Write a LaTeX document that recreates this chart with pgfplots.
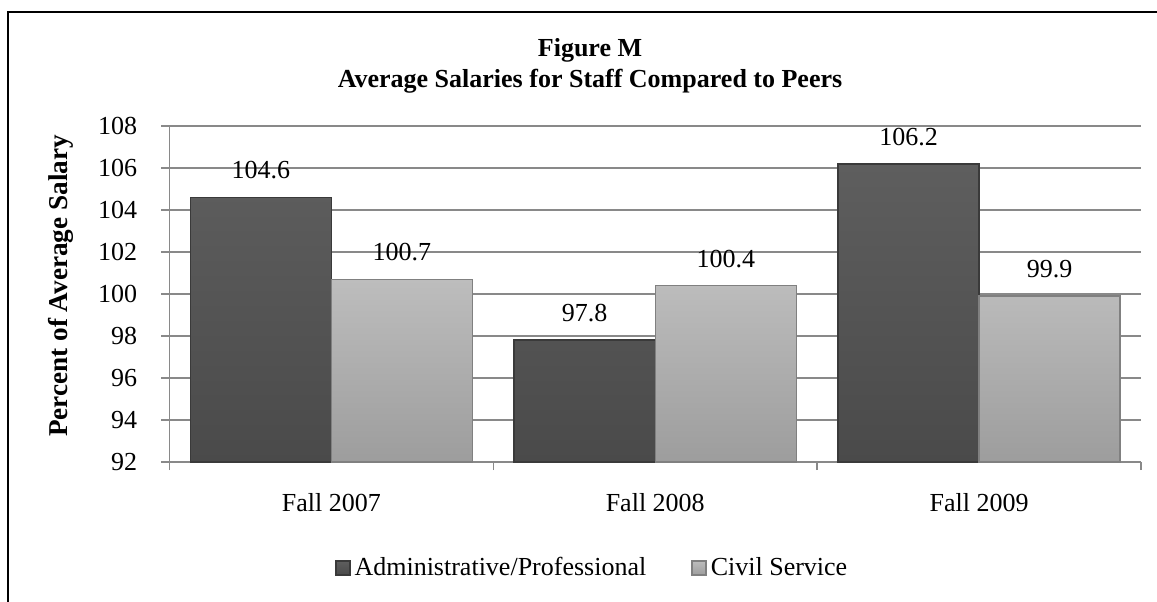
\documentclass[border=0pt]{standalone}
\usepackage{fontspec}
\setmainfont{Liberation Serif}
\usepackage{pgfplots}
\pgfplotsset{compat=1.18}
\definecolor{gridc}{HTML}{898989}
\definecolor{adtop}{HTML}{5E5E5E}
\definecolor{adbot}{HTML}{4A4A4A}
\definecolor{adedge}{HTML}{3A3A3A}
\definecolor{cstop}{HTML}{BDBDBD}
\definecolor{csbot}{HTML}{9D9D9D}
\definecolor{csedge}{HTML}{808080}
\newcommand{\chartfont}{\fontsize{13}{15.6}\selectfont}
\pgfplotsset{sqlegend/.style={legend image code/.code={\draw[##1] (0pt,-3.5pt) rectangle (7pt,3.5pt);}}}
\begin{document}
\begin{tikzpicture}
\useasboundingbox (0,0) rectangle (578.5pt,300.5pt);
\draw[line width=1.1pt] (4pt,-2pt) -- (4pt,294.5pt) -- (580pt,294.5pt);
\node[font=\chartfont\bfseries, anchor=base] at (295pt,272pt) {Figure M};
\node[font=\chartfont\bfseries, anchor=base] at (295pt,256.5pt) {Average Salaries for Staff Compared to Peers};
\begin{axis}[
  at={(84.75pt,69.5pt)}, anchor=south west,
  width=485.75pt, height=168pt, scale only axis,
  xmin=-0.5, xmax=2.5, ymin=92, ymax=108,
  ytick={92,94,...,108},
  xtick={-0.5,0.5,1.5,2.5}, xticklabels={},
  extra x ticks={0,1,2},
  extra x tick labels={Fall 2007,Fall 2008,Fall 2009},
  extra x tick style={major tick length=0pt, grid=none,
    tick label style={anchor=base, inner sep=0pt, yshift=-24.5pt}},
  axis lines=left,
  axis line style={-, draw=gridc, line width=0.75pt},
  tick align=outside, major tick length=4pt,
  tick style={draw=gridc, line width=0.75pt},
  ymajorgrids, grid style={draw=gridc, line width=0.75pt},
  ticklabel style={font=\chartfont},
  yticklabel style={anchor=east, inner sep=0pt, xshift=-12pt},
  /pgf/number format/assume math mode=true,
  ylabel={Percent of Average Salary},
  ylabel style={font=\fontsize{13.6}{16}\selectfont\bfseries,
    at={(axis description cs:-0.1055,0.5238)}, anchor=base},
  ybar=0pt, bar width=0.4355,
  nodes near coords,
  every node near coord/.append style={font=\chartfont, text=black,
    anchor=base, inner sep=0pt, yshift=9.25pt,
    /pgf/number format/fixed, /pgf/number format/fixed zerofill,
    /pgf/number format/precision=1},
  legend columns=2,
  legend style={at={(axis description cs:0.1704,-0.3155)}, anchor=west,
    draw=none, fill=none, inner sep=0pt, outer sep=0pt, font=\chartfont,
    /tikz/every even column/.append style={column sep=20.5pt}},
]
\addplot[top color=adtop, bottom color=adbot, draw=adedge, line width=0.75pt, sqlegend]
  coordinates {(0,104.6) (1,97.8) (2,106.2)};
\addlegendentry{Administrative/Professional}
\addplot[top color=cstop, bottom color=csbot, draw=csedge, line width=0.75pt, sqlegend]
  coordinates {(0,100.7) (1,100.4) (2,99.9)};
\addlegendentry{Civil Service}
\end{axis}
\end{tikzpicture}
\end{document}
